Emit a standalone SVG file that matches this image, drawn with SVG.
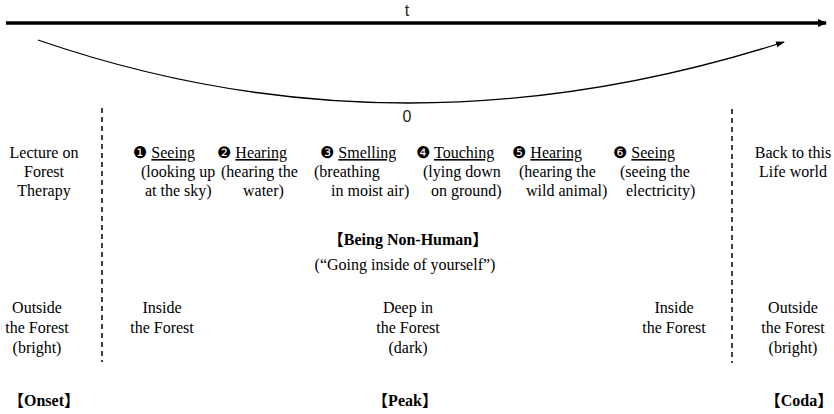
<svg xmlns="http://www.w3.org/2000/svg" width="834" height="414" viewBox="0 0 834 414">
<defs>
<marker id="big" markerWidth="10" markerHeight="10" refX="8" refY="5" orient="auto" markerUnits="userSpaceOnUse">
<path d="M0,1 L9,5 L0,9 Z" fill="#000"/>
</marker>
<marker id="small" markerWidth="10" markerHeight="8" refX="8" refY="4" orient="auto" markerUnits="userSpaceOnUse">
<path d="M0,1 L9,4 L0,7 Z" fill="#000"/>
</marker>
</defs>
<style>
.t{font-family:'Liberation Serif',serif;font-size:16px;fill:#000}
.c{text-anchor:middle}
.b{font-weight:bold}
.k{font-family:'Noto Sans CJK JP',sans-serif;font-weight:bold}
.s{font-family:'Liberation Sans',sans-serif;font-size:16px;fill:#222}
.h{text-decoration:underline}
.n{font-family:'DejaVu Sans',sans-serif;font-size:16px}
.d{stroke:#000;stroke-width:1.5;stroke-dasharray:5,4;fill:none}
</style>
<g id="connectors">
<line x1="6" y1="23" x2="826" y2="23" stroke="#000" stroke-width="3.5" marker-end="url(#big)"/>
<path d="M38,40 Q400,165 784,42" fill="none" stroke="#000" stroke-width="1.3" marker-end="url(#small)"/>
<line class="d" x1="102" y1="108" x2="102" y2="362"/>
<line class="d" x1="732" y1="109" x2="732" y2="363"/>
</g>
<g id="axis-labels" class="s">
<text class="c" x="407" y="16">t</text>
<text class="c" x="407" y="122">0</text>
</g>
<g class="t" font-family="Liberation Serif, serif">
<g id="lecture">
<text class="c" x="44" y="158">Lecture on</text>
<text class="c" x="44" y="177">Forest</text>
<text class="c" x="44" y="196">Therapy</text>
</g>
<g id="sense1">
<text x="133" y="158"><tspan class="n">❶</tspan> <tspan class="h">Seeing</tspan></text>
<text x="141" y="177">(looking up</text>
<text x="145" y="196">at the sky)</text>
</g>
<g id="sense2">
<text x="217" y="158"><tspan class="n">❷</tspan> <tspan class="h">Hearing</tspan></text>
<text x="221" y="177">(hearing the</text>
<text x="243" y="196">water)</text>
</g>
<g id="sense3">
<text x="320" y="158"><tspan class="n">❸</tspan> <tspan class="h">Smelling</tspan></text>
<text x="314" y="177">(breathing</text>
<text x="331" y="196">in moist air)</text>
</g>
<g id="sense4">
<text x="416" y="158"><tspan class="n">❹</tspan> <tspan class="h">Touching</tspan></text>
<text x="423" y="177">(lying down</text>
<text x="431" y="196">on ground)</text>
</g>
<g id="sense5">
<text x="512" y="158"><tspan class="n">❺</tspan> <tspan class="h">Hearing</tspan></text>
<text x="519" y="177">(hearing the</text>
<text x="526" y="196">wild animal)</text>
</g>
<g id="sense6">
<text x="613" y="158"><tspan class="n">❻</tspan> <tspan class="h">Seeing</tspan></text>
<text x="620" y="177">(seeing the</text>
<text x="626" y="196">electricity)</text>
</g>
<g id="back">
<text class="c" x="793" y="158">Back to this</text>
<text class="c" x="793" y="177">Life world</text>
</g>
<g id="being">
<text class="c b" x="408" y="245"><tspan class="k">【</tspan>Being Non-Human<tspan class="k">】</tspan></text>
<text class="c" x="405" y="270">(“Going inside of yourself”)</text>
</g>
<g id="outside-left">
<text class="c" x="37" y="313">Outside</text>
<text class="c" x="37" y="333">the Forest</text>
<text class="c" x="37" y="353">(bright)</text>
</g>
<g id="inside-left">
<text class="c" x="162" y="313">Inside</text>
<text class="c" x="162" y="333">the Forest</text>
</g>
<g id="deep">
<text class="c" x="408" y="313">Deep in</text>
<text class="c" x="408" y="333">the Forest</text>
<text class="c" x="408" y="353">(dark)</text>
</g>
<g id="inside-right">
<text class="c" x="674" y="313">Inside</text>
<text class="c" x="674" y="333">the Forest</text>
</g>
<g id="outside-right">
<text class="c" x="793" y="313">Outside</text>
<text class="c" x="793" y="333">the Forest</text>
<text class="c" x="793" y="353">(bright)</text>
</g>
<g id="phases">
<text class="b" x="8" y="406"><tspan class="k">【</tspan>Onset<tspan class="k">】</tspan></text>
<text class="c b" x="405" y="406"><tspan class="k">【</tspan>Peak<tspan class="k">】</tspan></text>
<text class="c b" x="799" y="406"><tspan class="k">【</tspan>Coda<tspan class="k">】</tspan></text>
</g>
</g>
</svg>
